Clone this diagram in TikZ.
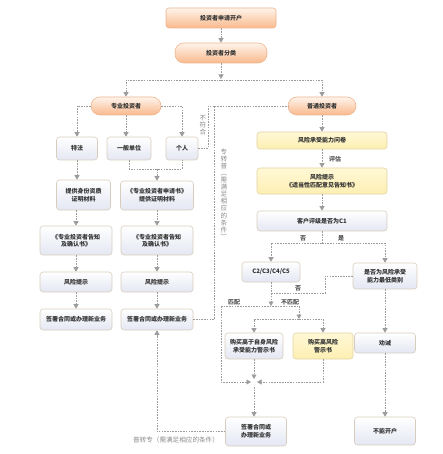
\documentclass[tikz,border=0pt]{standalone}
\usepackage{fontspec}
\setmainfont{Noto Sans CJK SC}
\usepackage{xcolor}
\usepackage{tikz}
\usetikzlibrary{arrows.meta,calc}
\definecolor{ink}{HTML}{333333}
\definecolor{orgtop}{HTML}{FFF4EB}
\definecolor{orgbot}{HTML}{F9B98C}
\definecolor{orgline}{HTML}{EDB48E}
\definecolor{yeltop}{HTML}{FFF8D6}
\definecolor{yelbot}{HTML}{FDEFB2}
\definecolor{yelline}{HTML}{E3D2A2}
\definecolor{lavtop}{HTML}{FFFFFF}
\definecolor{lavbot}{HTML}{E4E7F3}
\definecolor{lavline}{HTML}{D8CCBC}
\definecolor{linkgray}{HTML}{9C9C9C}
\definecolor{notegray}{HTML}{8A8A8A}
\newcommand{\bxfont}{\fontsize{6}{7.6}\selectfont\bfseries}
\newcommand{\ntfont}{\fontsize{6.6}{7.1}\selectfont}
\tikzset{
  orgbox/.style  ={rounded corners=3pt,draw=orgline,line width=0.6pt,top color=orgtop,
                   bottom color=orgbot,inner sep=1pt,align=center,font=\bxfont,text=ink},
  pill/.style    ={orgbox,rounded corners=9pt},
  yelbox/.style  ={rounded corners=3pt,draw=yelline,line width=0.6pt,top color=yeltop,
                   bottom color=yelbot,inner sep=1pt,align=center,font=\bxfont,text=ink},
  plainbox/.style={rounded corners=3pt,draw=lavline,line width=0.6pt,top color=lavtop,
                   bottom color=lavbot,inner sep=1pt,align=center,font=\bxfont,text=ink},
  link/.style    ={draw=linkgray,line width=0.7pt,dash pattern=on 1.6pt off 1.1pt},
  flow/.style    ={link,-{Triangle[length=4.5pt,width=5pt]}},
  note/.style    ={text=notegray,font=\ntfont,inner sep=0pt,align=center},
  tag/.style     ={text=ink!85,font=\bxfont,inner sep=0pt}
}

\begin{document}
\begin{tikzpicture}[x=1pt,y=-1pt]
  \useasboundingbox (0,0) rectangle (442,454);
  % top
  \node[orgbox,minimum width=110pt,minimum height=20pt] (apply) at (221,18) {投资者申请开户};
  \node[pill,minimum width=92pt,minimum height=20pt] (classify) at (221,53) {投资者分类};
  \node[pill,minimum width=70pt,minimum height=18pt] (pro) at (126,106) {专业投资者};
  \node[pill,minimum width=68pt,minimum height=18pt] (ord) at (322,106) {普通投资者};
  \coordinate (fork1) at (221,80);
  \draw[flow] (apply) -- (classify);
  \draw[flow,shorten >=1pt] (classify) -- (fork1);
  \draw[flow] (fork1) -| (pro);
  \draw[flow] (fork1) -| (ord);

  % professional investors
  \node[plainbox,minimum width=41pt,minimum height=23pt] (tefa) at (77,148.5) {特法};
  \node[plainbox,minimum width=44pt,minimum height=23pt] (unit) at (129,148.5) {一般单位};
  \node[plainbox,minimum width=32pt,minimum height=23pt] (person) at (182,148.5) {个人};
  \node[plainbox,minimum width=54pt,minimum height=30pt] (idproof) at (83.5,195) {提供身份资质\\证明材料};
  \node[plainbox,minimum width=73pt,minimum height=29pt] (appform) at (157,195.5) {《专业投资者申请书》\\提供证明材料};
  \node[plainbox,minimum width=72pt,minimum height=29pt] (notice1) at (76,240.5) {《专业投资者告知\\及确认书》};
  \node[plainbox,minimum width=72pt,minimum height=29pt] (notice2) at (157,240.5) {《专业投资者告知\\及确认书》};
  \node[plainbox,minimum width=72pt,minimum height=20pt] (risk1) at (76,282) {风险提示};
  \node[plainbox,minimum width=72pt,minimum height=20pt] (risk2) at (157,282) {风险提示};
  \node[plainbox,minimum width=72pt,minimum height=21pt] (sign1) at (76,319.5) {签署合同或办理新业务};
  \node[plainbox,minimum width=72pt,minimum height=21pt] (sign2) at (157,319.5) {签署合同或办理新业务};
  \coordinate (join1) at (157,169);
  \draw[flow] (pro.west) -| (tefa.north);
  \draw[flow] (pro.south) -- (pro.south |- unit.north);
  \draw[flow] (pro.east) -| (person.north);
  \draw[flow] (tefa.south) -- (idproof.north -| tefa.south);
  \draw[link] (unit.south) |- (join1) -| (person.south);
  \draw[flow] (join1) -- (appform.north);
  \draw[flow] (notice1.north |- idproof.south) -- (notice1.north);
  \draw[flow] (appform) -- (notice2);
  \draw[flow] (notice1) -- (risk1);
  \draw[flow] (notice2) -- (risk2);
  \draw[flow] (risk1) -- (sign1);
  \draw[flow] (risk2) -- (sign2);

  % switching between the two kinds
  \coordinate (turn1) at (208,106);
  \coordinate (turn2) at (214,106);
  \draw[link] (person.east) -| (turn1) -- (turn2);
  \draw[link] (sign2.east) -| (turn2) -- (ord.west);
  \node[note] (nofit) at (203,125) {不\\符\\合};
  \node[note] (protoord) at (224,194) {专\\转\\普\\︵\\需\\满\\足\\相\\应\\的\\条\\件\\︶};

  % ordinary investors
  \node[yelbox,minimum width=130pt,minimum height=17pt] (quest) at (322,140.5) {风险承受能力问卷};
  \node[yelbox,minimum width=130pt,minimum height=26pt] (hint) at (322,181) {风险提示\\《适当性匹配意见告知书》};
  \node[plainbox,minimum width=130pt,minimum height=20pt] (isc1) at (322,221) {客户评级是否为C1};
  \node[plainbox,minimum width=58pt,minimum height=20pt] (ctwo) at (271,272) {C2/C3/C4/C5};
  \node[plainbox,minimum width=64pt,minimum height=26pt] (lowest) at (385,276) {是否为风险承受\\能力最低类别};
  \node[plainbox,minimum width=58pt,minimum height=26pt] (buyhigh) at (254,346) {购买高于自身风险\\承受能力警示书};
  \node[yelbox,minimum width=60pt,minimum height=26pt] (buyrisk) at (323,346) {购买高风险\\警示书};
  \node[plainbox,minimum width=61pt,minimum height=20pt] (dissuade) at (385,343) {劝诫};
  \node[plainbox,minimum width=61pt,minimum height=28pt] (noopen) at (385,431) {不能开户};
  \node[plainbox,minimum width=61pt,minimum height=29pt] (sign3) at (256,431.5) {签署合同或\\办理新业务};
  \coordinate (fork2) at (322,243);
  \coordinate (turn3) at (325,293);
  \coordinate (fork3) at (271,306);
  \coordinate (mleft) at (221,306);
  \coordinate (mright) at (299,306);
  \coordinate (fork4) at (299,319);
  \coordinate (merge) at (254,382);
  \draw[flow] (ord.south) -- (ord.south |- quest.north);
  \draw[flow] (quest) -- (hint);
  \draw[flow] (hint) -- (isc1);
  \draw[link] (isc1.south) -- (fork2);
  \draw[flow] (fork2) -| (ctwo.north);
  \draw[flow] (fork2) -| (lowest.north);
  \draw[link] (lowest.west) -| (turn3) -- (turn3 -| ctwo.south);
  \draw[flow] (ctwo.south) -- (fork3);
  \draw[link] (mleft) -- (mright);
  \draw[flow] (mright) -- (fork4);
  \draw[flow] (fork4) -| (buyhigh.north);
  \draw[flow] (fork4) -| (buyrisk.north);
  \draw[flow,shorten >=3pt] (mleft) |- (merge);
  \draw[flow,shorten >=3pt] (buyrisk.south) |- (merge);
  \draw[flow,shorten >=3pt] (buyhigh.south) -- (merge);
  \draw[flow,shorten <=5pt] (merge) -- (merge |- sign3.north);
  \draw[flow] (lowest) -- (dissuade);
  \draw[flow] (dissuade) -- (noopen);
  \draw[flow] (sign3.west) -| (sign2.south);
  \node[tag] (assess) at (335,159) {评估};
  \node[tag] (notc1) at (303,238) {否};
  \node[tag] (isc1yes) at (341,238) {是};
  \node[tag] (notlow) at (298,288) {否};
  \node[tag] (match) at (234,302) {匹配};
  \node[tag] (nomatch) at (290,302) {不匹配};
  \node[note] (ordtopro) at (176,440) {普转专（需满足相应的条件）};
\end{tikzpicture}
\end{document}
